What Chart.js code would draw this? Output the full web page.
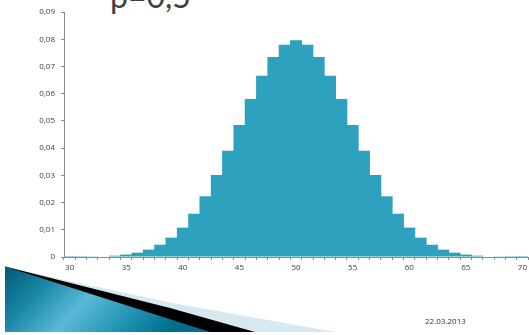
<!DOCTYPE html>
<html>
<head>
<meta charset="utf-8">
<script src="https://cdn.jsdelivr.net/npm/chart.js@4"></script>
<style>
    html, body { margin: 0; padding: 0; background: #fff; overflow: hidden; }
    #slide { position: relative; width: 529px; height: 335px; overflow: hidden; }
    #box { position: absolute; left: 0; top: 0; width: 530px; height: 335px; }
    #title { position: absolute; left: 110px; top: -20px; font-family: Lato, sans-serif; font-size: 32px; line-height: 32px; color: #404040; white-space: nowrap; }
    #date { position: absolute; left: 425px; top: 315px; font-family: "Open Sans", sans-serif; font-size: 8px; color: #333; }
    #deco { position: absolute; left: 0; top: 0; }
</style>
</head>
<body>
<div id="slide">
    <div id="title">p=0,5</div>
    <div id="box"><canvas id="chart"></canvas></div>
    <svg id="deco" width="529" height="335">
        <defs>
            <linearGradient id="blue" x1="0" y1="0" x2="1" y2="0.3">
                <stop offset="0" stop-color="#005a76"/>
                <stop offset="0.25" stop-color="#1a86a6"/>
                <stop offset="0.5" stop-color="#5ab9d6"/>
                <stop offset="0.8" stop-color="#1b8eaf"/>
                <stop offset="1" stop-color="#006e8b"/>
            </linearGradient>
        </defs>
        <polygon points="5,266.5 60,279 170,302.5 335,332 5,332" fill="#d6e9f1"/>
        <polygon points="5,266.5 170,308 255,332 5,332" fill="#000"/>
        <polygon points="5,266.5 210,332 5,332" fill="url(#blue)"/>
    </svg>
    <div id="date">22.03.2013</div>
</div>
<script>
// number of successes (categories) and probabilities
let xLabels = [30, 31, 32, 33, 34, 35, 36, 37, 38, 39,
    40, 41, 42, 43, 44, 45, 46, 47, 48, 49,
    50, 51, 52, 53, 54, 55, 56, 57, 58, 59,
    60, 61, 62, 63, 64, 65, 66, 67, 68, 69, 70];
let probs = [0.00002, 0.00005, 0.0001, 0.0002, 0.0005, 0.0009, 0.0016, 0.0027, 0.0045, 0.0071,
    0.0108, 0.0159, 0.0223, 0.0301, 0.0390, 0.0485, 0.0580, 0.0666, 0.0735, 0.0780,
    0.0796, 0.0780, 0.0735, 0.0666, 0.0580, 0.0485, 0.0390, 0.0301, 0.0223, 0.0159,
    0.0108, 0.0071, 0.0045, 0.0027, 0.0016, 0.0009, 0.0005, 0.0002, 0.0001, 0.00005, 0.00002];
let yTicks = [0, 0.01, 0.02, 0.03, 0.04, 0.05, 0.06, 0.07, 0.08, 0.09];

let axisColor = '#8a8a8a';
let tickFont = { family: 'Open Sans', size: 8 };

let ctx = document.getElementById('chart').getContext('2d');
let myChart = new Chart(ctx, {
    type: 'bar',
    data: {
        labels: xLabels,
        datasets: [{
            data: probs,
            backgroundColor: '#2da1be',
            borderWidth: 0,
            // a touch over 1 so neighbouring bars overlap and no seams show
            barPercentage: 1.06,
            categoryPercentage: 1
        }]
    },
    options: {
        responsive: true,
        maintainAspectRatio: false,
        animation: false,
        layout: { padding: { left: 0, right: 0, top: 12, bottom: 58 } },
        plugins: {
            legend: { display: false },
            tooltip: { enabled: false }
        },
        scales: {
            x: {
                offset: true,
                grid: { display: true, drawOnChartArea: false, drawTicks: true, tickLength: 3, color: axisColor, offset: true },
                border: { display: true, color: axisColor, z: 1 },
                ticks: {
                    autoSkip: false,
                    maxRotation: 0,
                    padding: 3,
                    color: '#404040',
                    font: tickFont,
                    callback: function (value, index) {
                        let v = xLabels[index];
                        return v % 5 == 0 ? String(v) : '';
                    }
                },
                afterFit: function (scale) { scale.height = 20; }
            },
            y: {
                min: 0,
                max: 0.09,
                afterBuildTicks: function (scale) {
                    scale.ticks = yTicks.map(function (v) { return { value: v }; });
                },
                grid: { display: true, drawOnChartArea: false, drawTicks: true, tickLength: 3, color: axisColor },
                border: { display: true, color: axisColor },
                ticks: {
                    padding: 6,
                    color: '#404040',
                    font: tickFont,
                    callback: function (value) {
                        if (value == 0) return '0';
                        return value.toFixed(2).replace('.', ',');
                    }
                },
                afterFit: function (scale) { scale.width = 64; }
            }
        }
    }
});
</script>
</body>
</html>
